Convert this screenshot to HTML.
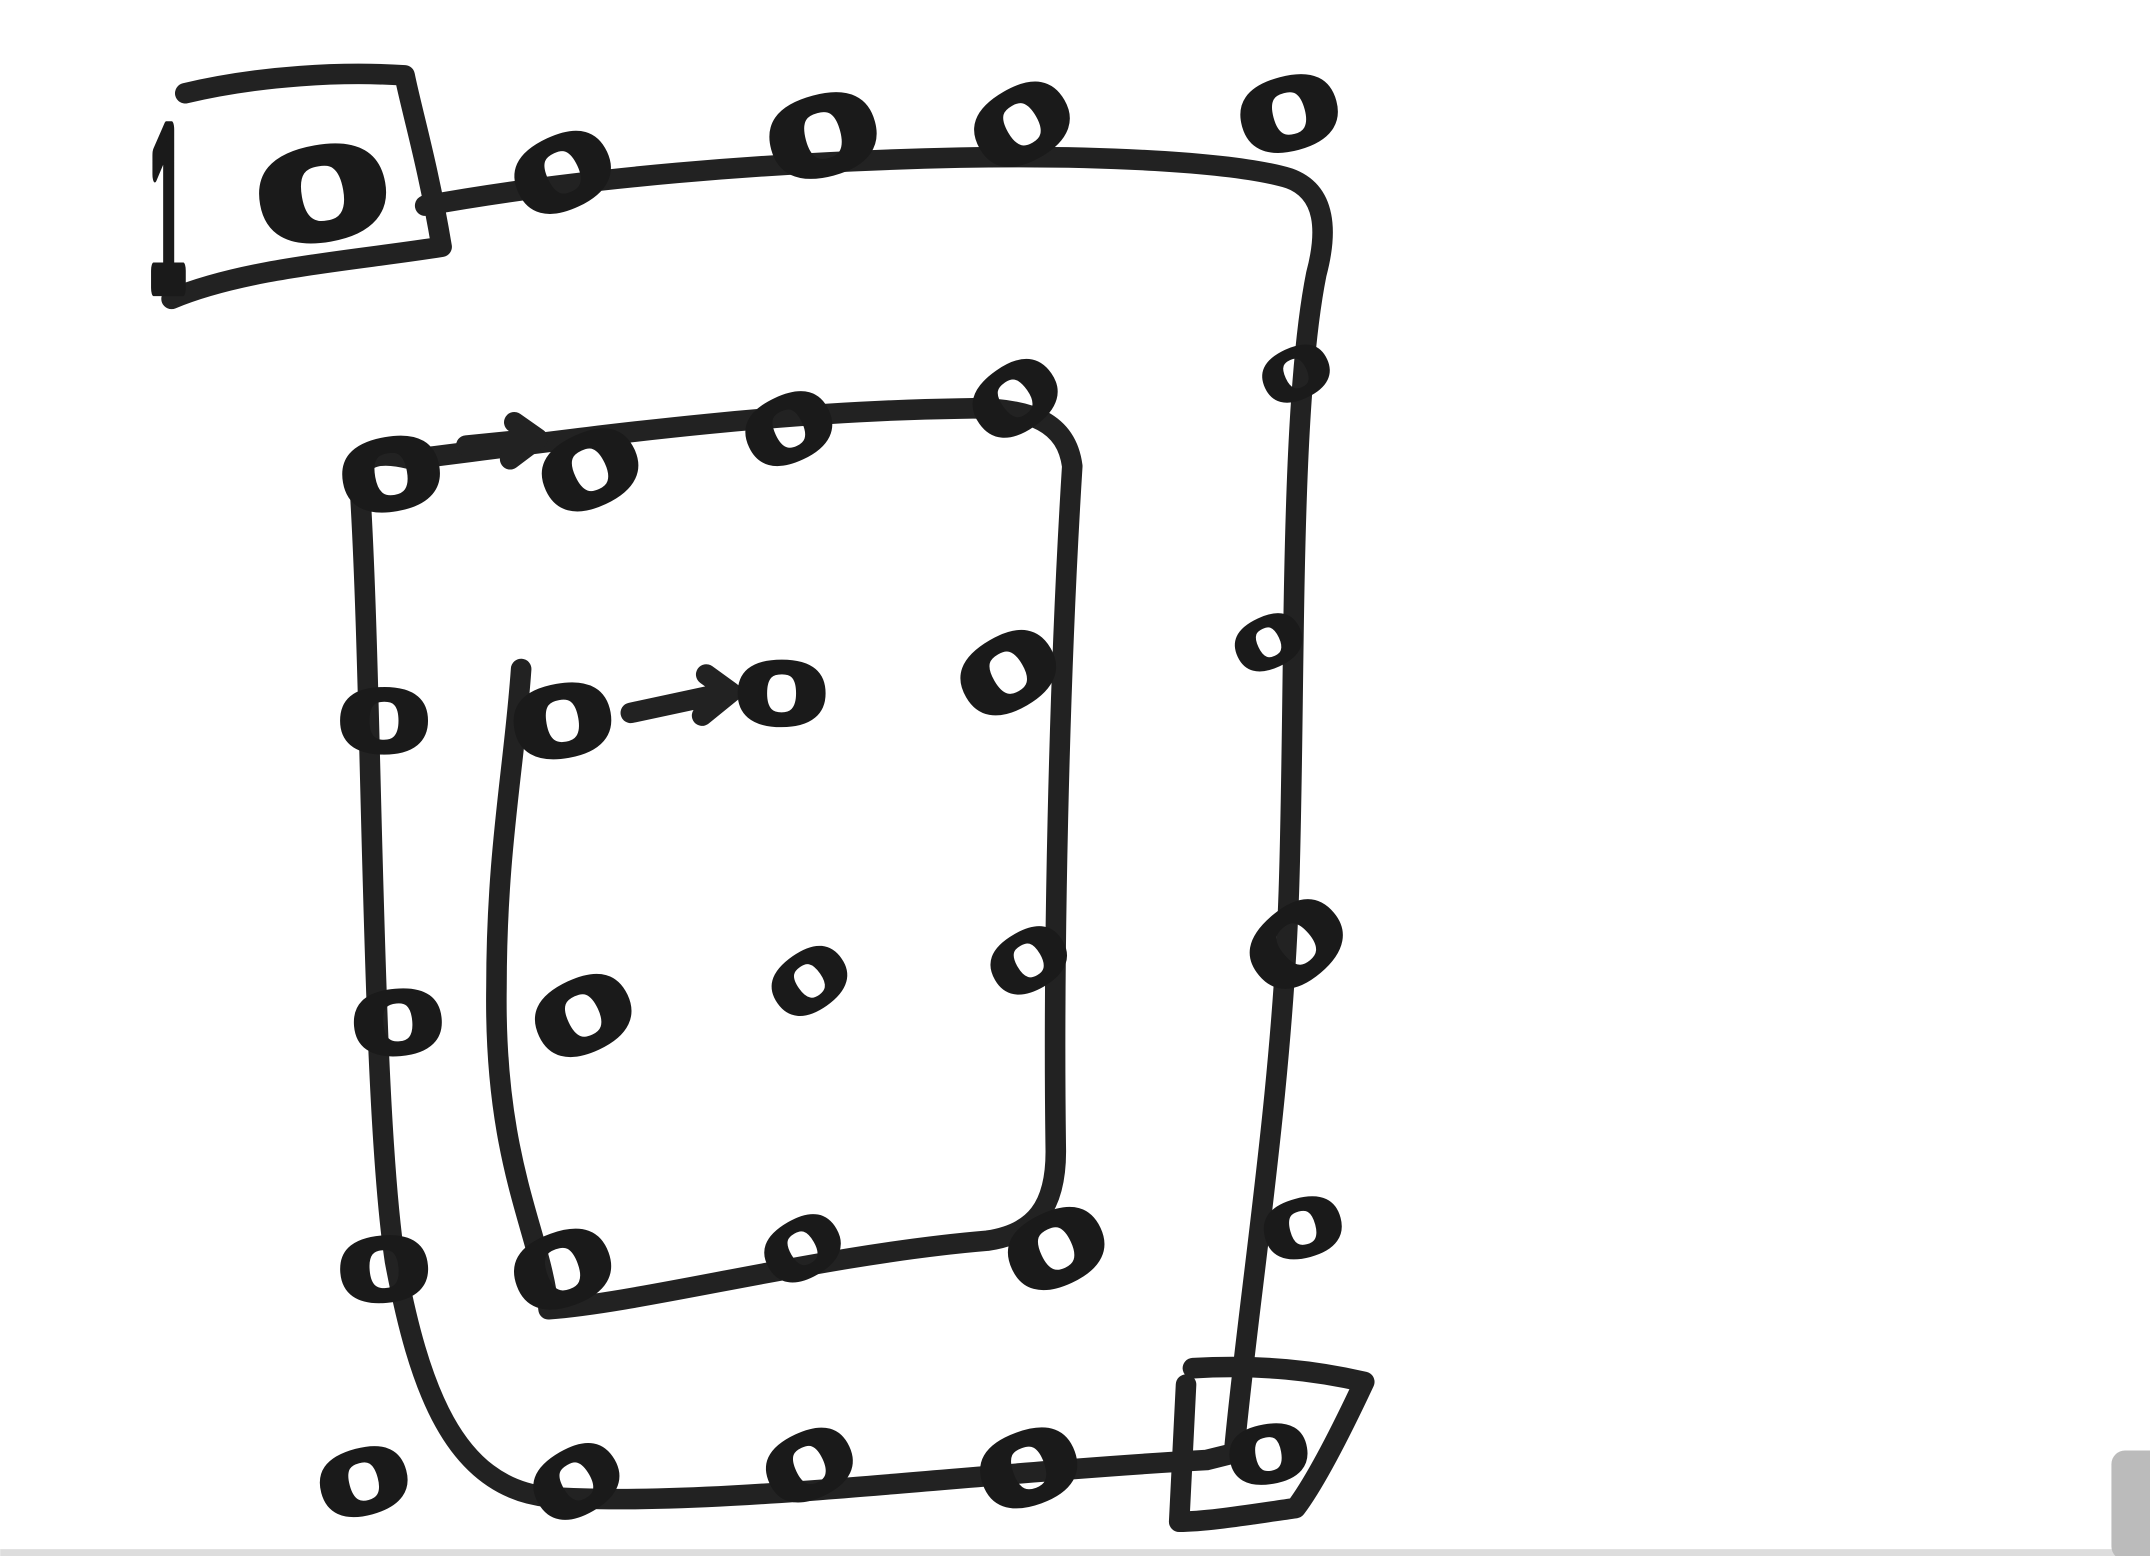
<!DOCTYPE html>
<html><head><meta charset="utf-8"><style>
html,body{margin:0;padding:0;background:#fff;}
svg{display:block;}
text{font-family:"Liberation Sans",sans-serif;font-size:84px;fill:#1a1a1a;stroke:#1a1a1a;stroke-width:9;stroke-linejoin:round;}
</style></head><body>
<svg width="2150" height="1556" viewBox="0 0 1568 1135" xmlns="http://www.w3.org/2000/svg">
<rect width="1568" height="1135" fill="#fff"/>
<rect x="0" y="1130" width="1568" height="5" fill="#ddd"/>
<rect x="1540" y="1058" width="40" height="80" rx="10" fill="#bbb"/>
<g fill="none" stroke="#222" stroke-width="15" stroke-linecap="round" stroke-linejoin="round">
<path d="M310 150 C420 130 560 118 700 115 C800 113 900 118 940 130 C968 140 968 170 960 200 C940 300 945 500 940 650 C935 800 910 950 900 1060 L880 1065 C700 1075 520 1100 400 1092 C330 1085 305 1010 288 920 C270 800 272 500 262 350 C262 330 280 330 300 335 C420 320 560 300 700 298 C755 296 778 310 782 340 C772 500 768 700 770 840 C770 880 755 900 720 905 C600 915 470 950 400 955 C395 900 360 850 362 720 C362 620 375 560 380 488"/>
<path d="M135 68 C190 55 250 52 295 55 C300 80 312 120 322 180 C260 190 180 195 125 218"/>
<path d="M870 998 C920 995 960 1000 995 1008 C980 1040 960 1080 945 1100 C910 1105 880 1110 860 1110 L865 1010"/>
<path d="M340 325 L390 320 M375 308 L392 320 L372 335"/>
<path d="M460 520 L530 505 M515 492 L533 505 L512 522"/>
</g>
<g>
<text x="0" y="0" transform="translate(108,210) scale(0.6,2.0)" style="stroke-width:6">1</text>
<g id="z"></g>
</g>
<script>
const zs=[[235,140,1.3,-10],[410,125,1,-25],[600,98,1.1,-15],[745,90,1,-30],[940,82,1,-15],
[945,272,0.7,-25],[925,468,0.7,-25],[945,688,1,-40],[950,895,0.8,-15],[925,1060,0.8,-10],
[285,345,1,-10],[430,342,1,-25],[575,312,0.9,-25],[740,290,0.9,-35],
[280,525,0.9,0],[410,525,1,-10],[570,505,0.9,0],[735,490,1,-30],
[290,745,0.9,-5],[425,740,1,-25],[590,715,0.8,-35],[750,700,0.8,-30],
[280,925,0.9,-5],[410,925,1,-20],[585,910,0.8,-30],[770,910,1,-25],
[265,1080,0.9,-15],[420,1080,0.9,-30],[590,1068,0.9,-25],[750,1070,1,-20]];
const g=document.getElementById('z');
const ns='http://www.w3.org/2000/svg';
zs.forEach((d,i)=>{
 const t=document.createElementNS(ns,'text');
 
 
 t.textContent='0';
 t.setAttribute('text-anchor','middle');
 t.setAttribute('transform',`translate(${d[0]},${d[1]}) rotate(${d[3]}) scale(${1.45*d[2]},${0.8*d[2]}) translate(0,30)`);
 g.appendChild(t);
});
</script>
</svg>
</body></html>
